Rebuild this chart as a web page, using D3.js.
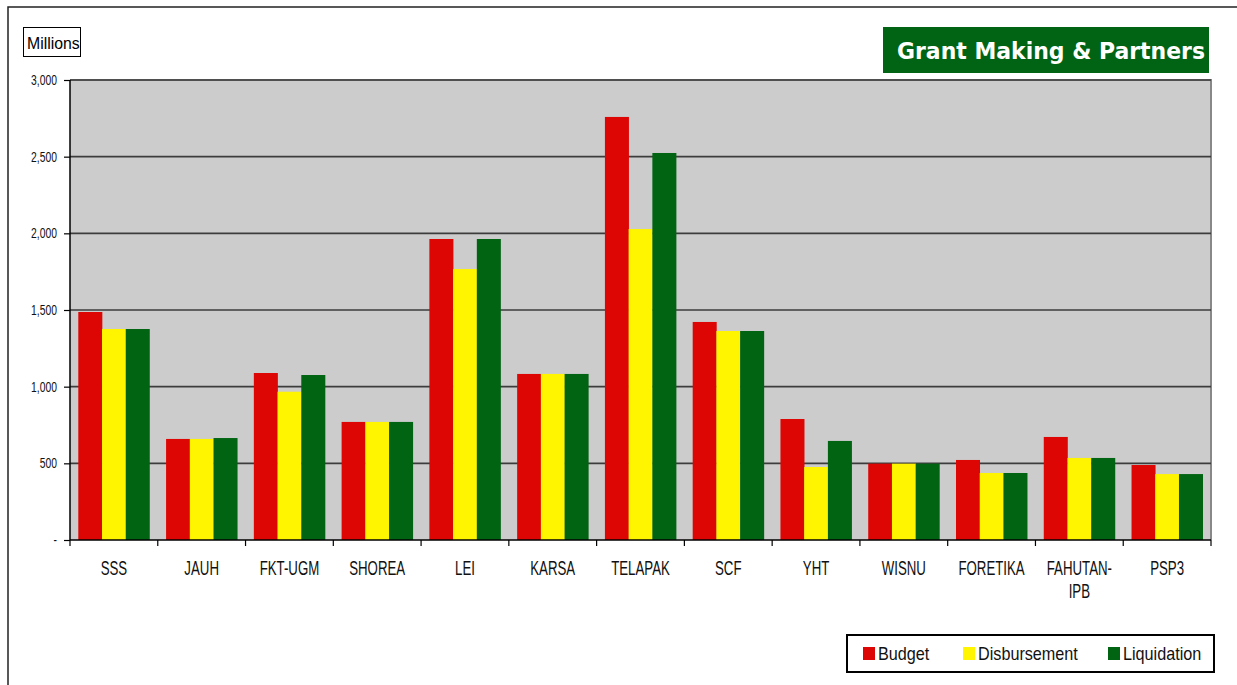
<!DOCTYPE html>
<html>
<head>
<meta charset="utf-8">
<script src="https://cdnjs.cloudflare.com/ajax/libs/d3/7.8.5/d3.min.js"></script>
<style>
  body { margin: 0; background: #fff; }
  svg { display: block; }
</style>
</head>
<body>
<div id="chart"></div>
<script>
// data (millions)
var partners = ["SSS", "JAUH", "FKT-UGM", "SHOREA", "LEI", "KARSA", "TELAPAK", "SCF", "YHT", "WISNU", "FORETIKA", "FAHUTAN-IPB", "PSP3"];
var budget       = [1487, 659, 1089, 770, 1963, 1083, 2759, 1422, 789, 498, 522, 672, 489];
var disbursement = [1376, 659,  967, 770, 1767, 1083, 2028, 1363, 476, 498, 437, 535, 430];
var liquidation  = [1376, 665, 1076, 770, 1963, 1083, 2524, 1363, 646, 498, 437, 535, 430];
var seriesNames = ["Budget", "Disbursement", "Liquidation"];
var seriesColors = ["#DE0604", "#FFF500", "#006412"];
var yTicks = [0, 500, 1000, 1500, 2000, 2500, 3000];

drawChart();

function drawChart() {
  var W = 1237, H = 685;
  var pL = 70, pR = 1211, pT = 80, pB = 540;

  var svg = d3.select("#chart").append("svg").attr("width", W).attr("height", H);

  // outer chart border
  svg.append("rect").attr("x", 8).attr("y", 7).attr("width", 1400).attr("height", 900)
    .attr("fill", "none").attr("stroke", "#222").attr("stroke-width", 1.5);

  var x0 = d3.scaleBand().domain(partners).range([pL, pR]).padding(0);
  var x1 = d3.scaleBand().domain(seriesNames).range([0, x0.bandwidth()]).paddingInner(0).paddingOuter(0.35);
  var y = d3.scaleLinear().domain([0, 3000]).range([pB, pT]);

  // plot area
  svg.append("rect").attr("x", pL).attr("y", pT).attr("width", pR - pL).attr("height", pB - pT)
    .attr("fill", "#CCCCCC");
  svg.append("path").attr("d", "M" + pL + "," + pT + "H" + pR + "V" + pB)
    .attr("fill", "none").attr("stroke", "#888").attr("stroke-width", 2);

  // gridlines
  svg.append("g").selectAll("line").data(yTicks.slice(1)).enter().append("line")
    .attr("x1", pL).attr("x2", pR)
    .attr("y1", function(d) { return y(d); }).attr("y2", function(d) { return y(d); })
    .attr("stroke", "#3c3c3c").attr("stroke-width", 1.6);

  // bars
  var table = partners.map(function(p, i) {
    return { name: p, vals: [budget[i], disbursement[i], liquidation[i]] };
  });
  var groups = svg.append("g").selectAll("g").data(table).enter().append("g")
    .attr("transform", function(d) { return "translate(" + x0(d.name) + ",0)"; });
  groups.selectAll("rect").data(function(d) { return d.vals; }).enter().append("rect")
    .attr("x", function(d, j) { return x1(seriesNames[j]); })
    .attr("width", x1.bandwidth() + 0.3)
    .attr("y", function(d) { return y(d); })
    .attr("height", function(d) { return y(0) - y(d); })
    .attr("fill", function(d, j) { return seriesColors[j]; });

  // y axis
  var yAxis = svg.append("g").attr("transform", "translate(" + pL + ",0)")
    .call(d3.axisLeft(y).tickValues(yTicks).tickSize(6).tickPadding(8)
      .tickFormat(function(d) { return d === 0 ? "-" : d3.format(",")(d); }));
  yAxis.select(".domain").attr("stroke", "#000").attr("stroke-width", 1.5).attr("d", "M0," + pT + "V" + pB);
  yAxis.selectAll(".tick line").attr("stroke", "#000").attr("stroke-width", 1.2);
  yAxis.selectAll(".tick text").attr("font-family", "Liberation Sans, Arial, sans-serif")
    .attr("font-size", 14).attr("fill", "#111")
    .attr("transform", "scale(0.74,1)")
    .attr("x", -13 / 0.74);

  // x axis line and boundary ticks
  svg.append("line").attr("x1", pL).attr("x2", pR).attr("y1", pB).attr("y2", pB)
    .attr("stroke", "#000").attr("stroke-width", 1.5);
  var bounds = partners.map(function(p) { return x0(p); }).concat([pR]);
  svg.append("g").selectAll("line").data(bounds).enter().append("line")
    .attr("x1", function(d) { return d; }).attr("x2", function(d) { return d; })
    .attr("y1", pB).attr("y2", pB + 6)
    .attr("stroke", "#000").attr("stroke-width", 1.2);

  // x labels
  var xl = svg.append("g").selectAll("text").data(partners).enter().append("text")
    .attr("transform", function(d) { return "translate(" + (x0(d) + x0.bandwidth() / 2) + ",575) scale(0.68,1)"; })
    .attr("text-anchor", "middle")
    .attr("font-family", "Liberation Sans, Arial, sans-serif")
    .attr("font-size", 19.5).attr("fill", "#111");
  xl.each(function(d) {
    var lines = d === "FAHUTAN-IPB" ? ["FAHUTAN-", "IPB"] : [d];
    var t = d3.select(this);
    lines.forEach(function(s, k) {
      t.append("tspan").attr("x", 0).attr("y", k * 23).text(s);
    });
  });

  // "Millions" box
  svg.append("rect").attr("x", 23.5).attr("y", 27.5).attr("width", 57).attr("height", 29)
    .attr("fill", "#fff").attr("stroke", "#000").attr("stroke-width", 1);
  svg.append("text").attr("transform", "translate(27,49) scale(0.93,1)")
    .attr("font-family", "Liberation Sans, Arial, sans-serif").attr("font-size", 17)
    .attr("fill", "#000").text("Millions");

  // title box
  svg.append("rect").attr("x", 883).attr("y", 27).attr("width", 326).attr("height", 46).attr("fill", "#006414");
  svg.append("text").attr("x", 897).attr("y", 59)
    .attr("font-family", "DejaVu Sans, Verdana, sans-serif").attr("font-weight", "bold")
    .attr("font-size", 22.5).attr("fill", "#fff")
    .attr("textLength", 308).attr("lengthAdjust", "spacingAndGlyphs")
    .text("Grant Making & Partners");

  // legend
  var lg = svg.append("g");
  lg.append("rect").attr("x", 847).attr("y", 635).attr("width", 367).attr("height", 37)
    .attr("fill", "#fff").attr("stroke", "#000").attr("stroke-width", 2);
  var legX = [863, 963, 1108];
  seriesNames.forEach(function(s, i) {
    lg.append("rect").attr("x", legX[i]).attr("y", 647).attr("width", 12).attr("height", 13).attr("fill", seriesColors[i]);
    lg.append("text").attr("transform", "translate(" + (legX[i] + 15) + ",660) scale(0.9,1)")
      .attr("font-family", "Liberation Sans, Arial, sans-serif").attr("font-size", 18)
      .attr("fill", "#111").text(s);
  });
}
</script>
</body>
</html>
